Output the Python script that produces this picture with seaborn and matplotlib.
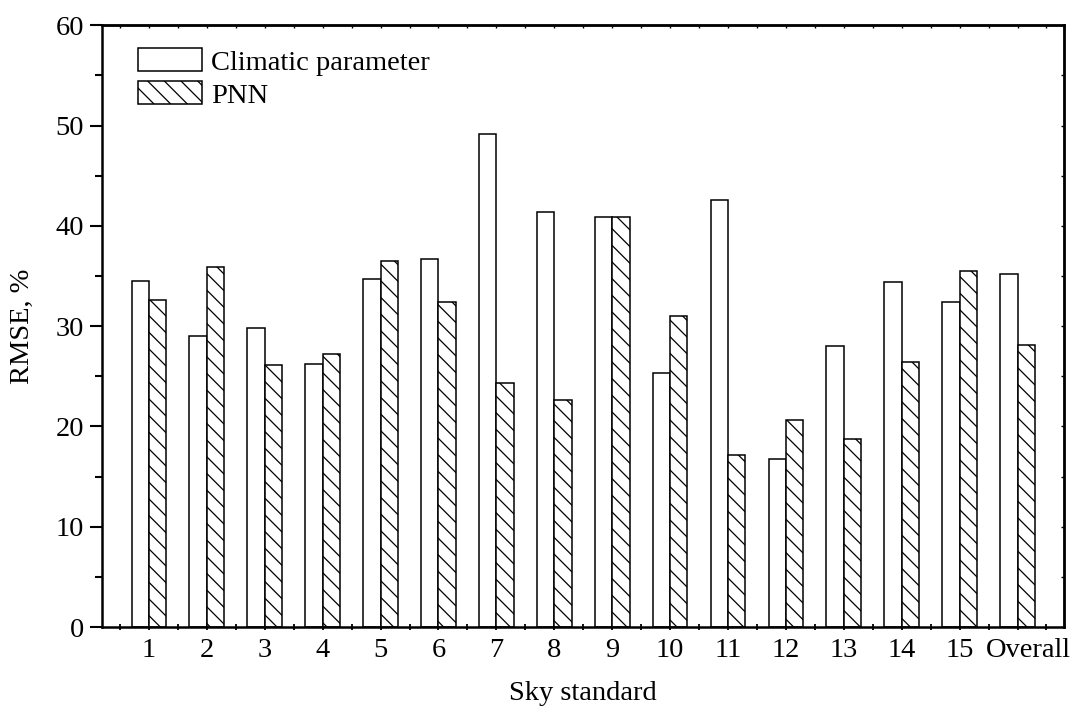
import matplotlib
matplotlib.use("Agg")
import matplotlib.pyplot as plt
import matplotlib.transforms as mtransforms
from matplotlib.ticker import MultipleLocator, FixedLocator
import numpy as np
import pandas as pd
import seaborn as sns

# Sky standards plus the overall figure
categories = ["1", "2", "3", "4", "5", "6", "7", "8", "9", "10",
              "11", "12", "13", "14", "15", "Overall"]
climatic_parameter = [34.5, 29.0, 29.8, 26.2, 34.7, 36.7, 49.2, 41.4, 40.9, 25.3,
                      42.6, 16.8, 28.0, 34.4, 32.4, 35.2]
pnn = [32.6, 35.9, 26.1, 27.2, 36.5, 32.4, 24.3, 22.6, 40.9, 31.0,
       17.2, 20.6, 18.8, 26.4, 35.5, 28.1]
series_names = ["Climatic parameter", "PNN"]
y_ticks = [0, 10, 20, 30, 40, 50, 60]

df = pd.DataFrame({
    "Sky standard": categories * 2,
    "RMSE": climatic_parameter + pnn,
    "Method": [series_names[0]] * len(categories) + [series_names[1]] * len(categories),
})

FS = 20.5

sns.set_style("ticks")
plt.rcParams["font.family"] = ["Liberation Serif", "DejaVu Serif"]
plt.rcParams["hatch.linewidth"] = 0.9
plt.rcParams["hatch.color"] = "black"
plt.rcParams["text.color"] = "black"
plt.rcParams["axes.labelcolor"] = "black"
plt.rcParams["xtick.color"] = "black"
plt.rcParams["ytick.color"] = "black"

fig = plt.figure(figsize=(10.86, 7.2), dpi=100)
ax = fig.add_axes([0.0936, 0.129, 0.886, 0.836])

sns.barplot(data=df, x="Sky standard", y="RMSE", hue="Method",
            order=categories, hue_order=series_names,
            palette=["white", "white"], edgecolor="black", linewidth=1.1,
            width=0.6, saturation=1, legend=False, ax=ax)

for container, hatch in zip(ax.containers, ["", "\\\\"]):
    for bar in container:
        bar.set_hatch(hatch)
        bar.set_edgecolor("black")
        bar.set_facecolor("white")

ax.set_xlim(-0.817, 15.8)
ax.set_ylim(0, 60)
ax.yaxis.set_major_locator(FixedLocator(y_ticks))
ax.yaxis.set_minor_locator(MultipleLocator(5))
ax.xaxis.set_major_locator(FixedLocator(np.arange(len(categories))))
ax.xaxis.set_minor_locator(FixedLocator(np.arange(len(categories) + 1) - 0.5))

for side in ["left", "right", "top", "bottom"]:
    ax.spines[side].set_visible(True)
    ax.spines[side].set_linewidth(1.8)
    ax.spines[side].set_color("black")

ax.tick_params(axis="y", which="major", direction="out", length=8.8, width=1.5,
               labelsize=FS, pad=4, colors="black")
ax.tick_params(axis="y", which="minor", direction="out", length=5, width=1.5)
ax.tick_params(axis="x", which="major", direction="inout", length=5, width=1.3,
               labelsize=FS, pad=5, colors="black")
ax.tick_params(axis="x", which="minor", direction="inout", length=4, width=1.3)

# the last category label sits a little to the right of its bars
last_label = ax.get_xticklabels()[-1]
last_label.set_transform(last_label.get_transform() +
                         mtransforms.ScaledTranslation(0.11, 0, fig.dpi_scale_trans))

# mirrored small inward ticks on the top and right edges
top = ax.secondary_xaxis("top")
top.set_xticks(np.arange(-0.5, 16.0, 0.5))
top.tick_params(direction="in", length=2.5, width=1.0, labeltop=False)
top.spines["top"].set_linewidth(1.8)
right = ax.secondary_yaxis("right")
right.set_yticks(np.arange(0, 61, 5))
right.tick_params(direction="in", length=2.5, width=1.0, labelright=False)
right.spines["right"].set_linewidth(1.8)

ax.set_xlabel("Sky standard", fontsize=FS, labelpad=13)
ax.set_ylabel("RMSE, %", fontsize=FS, labelpad=15)

ax.legend(ax.containers, series_names, loc="upper left",
          bbox_to_anchor=(0.038, 0.962), frameon=False, fontsize=FS,
          handlelength=2.25, handleheight=0.88, handletextpad=0.3,
          labelspacing=0.2, borderaxespad=0, borderpad=0)

fig.savefig("out.png", dpi=100)
